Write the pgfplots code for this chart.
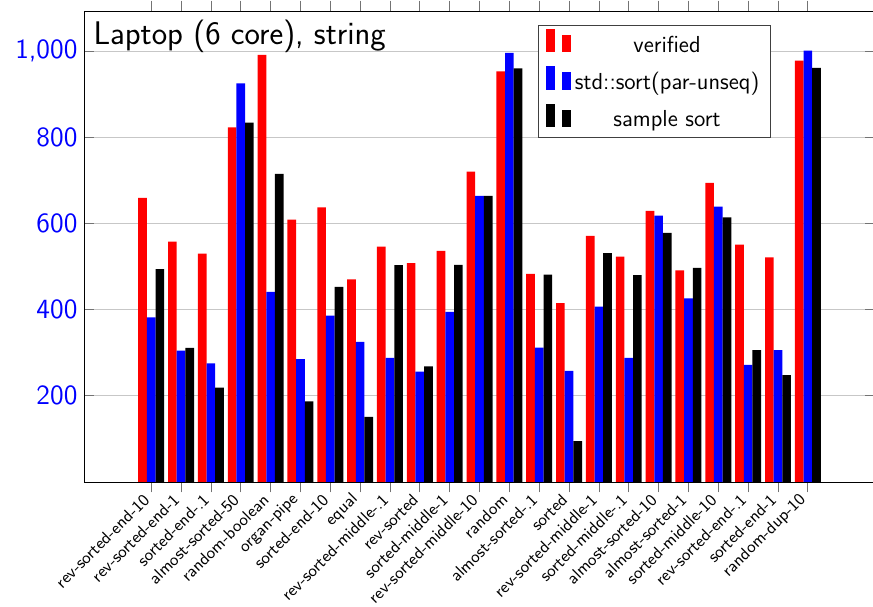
\documentclass[border=0pt]{standalone}
\usepackage{pgfplots}
\pgfplotsset{compat=1.18}
\usepackage{pgfplotstable}

\pgfplotstableread{
x verified stdsort sample
0 659 382 494
1 558 305 311
2 530 275 219
3 823 925 834
4 991 441 715
5 609 285 187
6 637 386 453
7 470 325 151
8 546 288 503
9 508 256 268
10 536 395 504
11 720 664 664
12 953 996 960
13 483 312 481
14 415 258 95
15 571 407 531
16 523 288 480
17 629 618 578
18 491 426 497
19 694 639 614
20 551 272 306
21 521 306 248
22 978 1001 961
}\datatable

\begin{document}
\begin{tikzpicture}
\begin{axis}[
  scale only axis,
  width=420.7pt, height=250.5pt,
  font=\sffamily,
  ybar=0pt,
  bar width=0.29,
  xmin=-2.25, xmax=24.25,
  ymin=0, ymax=1093,
  xtick={0,...,22},
  xticklabels={rev-sorted-end-10,rev-sorted-end-1,sorted-end-.1,almost-sorted-50,random-boolean,organ-pipe,sorted-end-10,equal,rev-sorted-middle-.1,rev-sorted,sorted-middle-1,rev-sorted-middle-10,random,almost-sorted-.1,sorted,rev-sorted-middle-1,sorted-middle-.1,almost-sorted-10,almost-sorted-1,sorted-middle-10,rev-sorted-end-.1,sorted-end-1,random-dup-10},
  xticklabel style={rotate=45, anchor=east, font=\fontsize{8.9}{10}\selectfont\sffamily},
  ytick={200,400,600,800,1000},
  yticklabel style={text=blue, font=\fontsize{14.8}{17}\selectfont\sffamily},
  /pgf/number format/assume math mode=true,
  xtick align=outside,
  ytick align=inside,
  major tick length=5.5pt,
  every tick/.style={black!55},
  ymajorgrids,
  major grid style={black!22},
  title={Laptop (6 core), string},
  title style={at={(0,1)}, anchor=north west, yshift=-7.5pt, xshift=1.5pt, font=\fontsize{17.4}{20}\selectfont\sffamily},
  legend cell align=center,
  legend style={at={(0.8685,0.9703)}, anchor=north east, draw=black!75,
    font=\fontsize{12.3}{14.5}\selectfont\sffamily, row sep=4.1pt, inner xsep=4pt},
  legend image code/.code={
    \fill[#1] (0pt,-3.8pt) rectangle (4.8pt,8.6pt);
    \fill[#1] (8.7pt,-3.8pt) rectangle (13.5pt,5.6pt);
  },
]
\addplot[fill=red, draw=none] table[x=x, y=verified] {\datatable};
\addplot[fill=blue, draw=none] table[x=x, y=stdsort] {\datatable};
\addplot[fill=black, draw=none] table[x=x, y=sample] {\datatable};
\legend{verified, std::sort(par-unseq), sample sort}
\coordinate (A) at (rel axis cs:0,0);
\coordinate (B) at (rel axis cs:1,1);
\end{axis}
\pgfresetboundingbox
\useasboundingbox ([xshift=-44.7pt, yshift=-66.5pt]A) rectangle ([xshift=-1.06pt, yshift=5.85pt]B);
\end{tikzpicture}
\end{document}
